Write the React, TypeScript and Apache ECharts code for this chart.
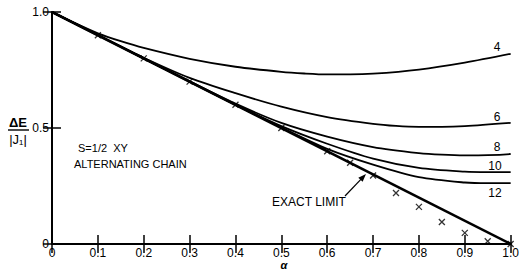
import React, { useEffect, useRef } from "react";
import * as echarts from "echarts";

const xTicks = ["0", "0.1", "0.2", "0.3", "0.4", "0.5", "0.6", "0.7", "0.8", "0.9", "1.0"];
const exactLimit: number[][] = [[0, 1], [1, 0]];
const curve4: number[][] = [[0, 1], [0.05, 0.952], [0.1, 0.908], [0.15, 0.874], [0.2, 0.845], [0.3, 0.798], [0.4, 0.764], [0.5, 0.742], [0.55, 0.735], [0.6, 0.731], [0.65, 0.731], [0.7, 0.734], [0.8, 0.752], [0.9, 0.782], [1.0, 0.82]];
const curve6: number[][] = [[0, 1], [0.1, 0.901], [0.2, 0.803], [0.3, 0.716], [0.4, 0.65], [0.5, 0.592], [0.6, 0.547], [0.7, 0.518], [0.75, 0.509], [0.8, 0.505], [0.85, 0.505], [0.9, 0.508], [1.0, 0.522]];
const curve8: number[][] = [[0, 1], [0.1, 0.9], [0.2, 0.8], [0.3, 0.701], [0.4, 0.605], [0.5, 0.522], [0.6, 0.463], [0.7, 0.418], [0.8, 0.392], [0.85, 0.385], [0.9, 0.382], [0.95, 0.383], [1.0, 0.388]];
const curve10: number[][] = [[0, 1], [0.1, 0.9], [0.2, 0.8], [0.3, 0.7], [0.4, 0.601], [0.5, 0.508], [0.6, 0.432], [0.7, 0.368], [0.8, 0.328], [0.9, 0.312], [0.95, 0.31], [1.0, 0.31]];
const curve12: number[][] = [[0, 1], [0.1, 0.9], [0.2, 0.8], [0.3, 0.7], [0.4, 0.6], [0.5, 0.502], [0.6, 0.41], [0.7, 0.342], [0.8, 0.288], [0.9, 0.265], [0.95, 0.262], [1.0, 0.262]];
const crossMarks: number[][] = [[0.1, 0.9], [0.2, 0.8], [0.3, 0.7], [0.4, 0.6], [0.5, 0.5], [0.6, 0.4], [0.65, 0.35], [0.7, 0.295], [0.75, 0.22], [0.8, 0.16], [0.85, 0.095], [0.9, 0.048], [0.95, 0.012], [1.0, 0]];
const curveLabels = ["4", "6", "8", "10", "12"];

const FONT = "'Liberation Sans', Arial, sans-serif";

export default function App() {
  const ref = useRef<HTMLDivElement>(null);
  useEffect(() => {
    if (!ref.current) return;
    const chart = echarts.init(ref.current, null, { renderer: "svg" });
    const lineSeries = (data: number[][], w: number) => ({
      type: "line",
      data,
      smooth: 0.3,
      symbol: "none",
      lineStyle: { color: "#000", width: w },
      silent: true,
    });
    const labelPos = [
      [497, 47],
      [497, 117],
      [497, 147],
      [495, 166],
      [495, 193],
    ];
    const ax = 345, ay = 196, tx = 366, ty = 174;
    const dx = tx - ax, dy = ty - ay;
    const len = Math.sqrt(dx * dx + dy * dy);
    const ux = dx / len, uy = dy / len;
    const head = [
      [tx, ty],
      [tx - 8 * ux - 3 * uy, ty - 8 * uy + 3 * ux],
      [tx - 8 * ux + 3 * uy, ty - 8 * uy - 3 * ux],
    ];
    chart.setOption({
      animation: false,
      backgroundColor: "#fff",
      grid: { left: 52, right: 7, top: 12, bottom: 27 },
      xAxis: [
        {
          type: "value",
          min: 0,
          max: 1,
          interval: 0.1,
          position: "bottom",
          axisLine: { lineStyle: { color: "#000", width: 2 } },
          axisTick: { inside: true, length: 9, lineStyle: { color: "#000", width: 1.5 } },
          axisLabel: {
            color: "#000",
            fontFamily: FONT,
            fontSize: 12,
            margin: 3,
            formatter: (v: number) => xTicks[Math.round(v * 10)],
          },
          splitLine: { show: false },
        },
        {
          type: "value",
          min: 0,
          max: 1,
          interval: 0.1,
          position: "top",
          axisLine: { lineStyle: { color: "#000", width: 1.5 } },
          axisTick: { inside: true, length: 9, lineStyle: { color: "#000", width: 1.5 } },
          axisLabel: { show: false },
          splitLine: { show: false },
        },
      ],
      yAxis: [
        {
          type: "value",
          min: 0,
          max: 1,
          interval: 0.5,
          position: "left",
          axisLine: { lineStyle: { color: "#000", width: 2 } },
          axisTick: { inside: true, length: 9, lineStyle: { color: "#000", width: 1.5 } },
          axisLabel: {
            color: "#000",
            fontFamily: FONT,
            fontSize: 12,
            margin: 3,
            formatter: (v: number) => (v === 1 ? "1.0" : v === 0.5 ? "0.5" : "0"),
          },
          splitLine: { show: false },
        },
        {
          type: "value",
          min: 0,
          max: 1,
          interval: 0.5,
          position: "right",
          axisLine: { lineStyle: { color: "#000", width: 1.5 } },
          axisTick: { inside: true, length: 9, lineStyle: { color: "#000", width: 1.5 } },
          axisLabel: { show: false },
          splitLine: { show: false },
        },
      ],
      series: [
        lineSeries(exactLimit, 2.6),
        lineSeries(curve4, 1.8),
        lineSeries(curve6, 1.8),
        lineSeries(curve8, 1.8),
        lineSeries(curve10, 1.8),
        lineSeries(curve12, 1.8),
        {
          type: "scatter",
          data: crossMarks,
          symbol: "path://M0,0L10,10M10,0L0,10",
          symbolSize: 6,
          itemStyle: { color: "none", borderColor: "#000", borderWidth: 1.3 },
          silent: true,
        },
      ],
      graphic: [
        ...curveLabels.map((t, i) => ({
          type: "text",
          x: labelPos[i][0],
          y: labelPos[i][1],
          style: {
            text: t,
            fill: "#000",
            font: `12px ${FONT}`,
            textAlign: "center",
            textVerticalAlign: "middle",
          },
        })),
        {
          type: "text",
          x: 78,
          y: 148,
          style: { text: "S=1/2  XY", fill: "#000", font: `11px ${FONT}`, textVerticalAlign: "middle" },
        },
        {
          type: "text",
          x: 74,
          y: 164,
          style: { text: "ALTERNATING CHAIN", fill: "#000", font: `11px ${FONT}`, textVerticalAlign: "middle" },
        },
        {
          type: "text",
          x: 272,
          y: 202,
          style: { text: "EXACT LIMIT", fill: "#000", font: `12px ${FONT}`, textVerticalAlign: "middle" },
        },
        {
          type: "line",
          shape: { x1: ax, y1: ay, x2: tx - 4 * ux, y2: ty - 4 * uy },
          style: { stroke: "#000", lineWidth: 1.2 },
        },
        {
          type: "polygon",
          shape: { points: head },
          style: { fill: "#000" },
        },
        {
          type: "text",
          x: 18,
          y: 122,
          style: { text: "ΔE", fill: "#000", font: `bold 13px ${FONT}`, textAlign: "center", textVerticalAlign: "middle" },
        },
        {
          type: "line",
          shape: { x1: 8, y1: 130, x2: 29, y2: 130 },
          style: { stroke: "#000", lineWidth: 1.4 },
        },
        {
          type: "text",
          x: 18,
          y: 139,
          style: { text: "|J₁|", fill: "#000", font: `13px ${FONT}`, textAlign: "center", textVerticalAlign: "middle" },
        },
        {
          type: "text",
          x: 284,
          y: 265,
          style: { text: "α", fill: "#000", font: `italic bold 11px ${FONT}`, textAlign: "center", textVerticalAlign: "middle" },
        },
      ],
    });
    return () => chart.dispose();
  }, []);
  return <div ref={ref} style={{ width: 522, height: 271, position: "absolute", left: 0, top: 0 }} />;
}
